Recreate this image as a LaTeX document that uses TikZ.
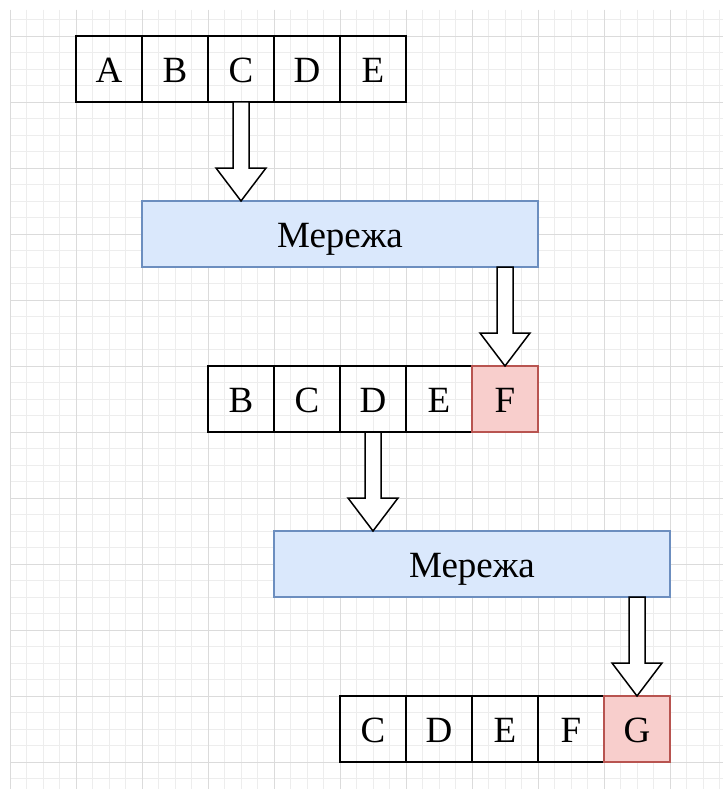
\documentclass[tikz,border=0pt]{standalone}
\usepackage{fontspec}
\setmainfont{Liberation Serif}
\usetikzlibrary{positioning,calc}

\definecolor{bluefill}{HTML}{DAE8FC}
\definecolor{blueline}{HTML}{6C8EBF}
\definecolor{redfill}{HTML}{F8CECC}
\definecolor{redline}{HTML}{B85450}
\tikzset{
  cell/.style={draw=black, line width=1.3pt, minimum size=66pt, inner sep=0pt, outer sep=0pt,
    text height=27pt, text depth=0pt, font=\fontsize{37}{40}\selectfont},
  newcell/.style={cell, fill=redfill, draw=redline},
  netbox/.style={draw=blueline, fill=bluefill, line width=1.1pt, minimum width=396pt, minimum height=66pt,
    inner sep=0pt, outer sep=0pt, text height=27pt, text depth=0pt, font=\fontsize{37}{40}\selectfont},
  blockarrow/.style={draw=black, fill=white, line width=1.5pt, line join=miter},
  minorgrid/.style={draw=black!7, line width=0.7pt},
  majorgrid/.style={draw=black!14, line width=0.9pt}
}

% block arrow: #1 start, #2 tip (same x)
\newcommand{\blockarrow}[2]{%
  \draw[blockarrow] ($(#1)+(-8,0)$) -- ($(#2)+(-8,-33)$) -- ($(#2)+(-25,-33)$) -- (#2)
    -- ($(#2)+(25,-33)$) -- ($(#2)+(8,-33)$) -- ($(#1)+(8,0)$) -- cycle;}

\begin{document}
\begin{tikzpicture}[x=1pt, y=-1pt]
\useasboundingbox (0,0) rectangle (723,789);
\fill[white] (0,0) rectangle (723,789);
%% grid
\foreach \i in {0,...,43} \draw[minorgrid] (10+16.5*\i,10) -- (10+16.5*\i,789);
\foreach \j in {1,...,47} \draw[minorgrid] (10,3+16.5*\j) -- (723,3+16.5*\j);
\foreach \i in {0,...,10} \draw[majorgrid] (10+66*\i,10) -- (10+66*\i,789);
\foreach \j in {0,...,11} \draw[majorgrid] (10,36+66*\j) -- (723,36+66*\j);

%% first window
\node[cell] (A1) at (109,69) {A};
\node[cell, right=0pt of A1] (B1) {B};
\node[cell, right=0pt of B1] (C1) {C};
\node[cell, right=0pt of C1] (D1) {D};
\node[cell, right=0pt of D1] (E1) {E};

\node[netbox] (net1) at (340,234) {Мережа};

%% second window
\node[cell] (B2) at (241,399) {B};
\node[cell, right=0pt of B2] (C2) {C};
\node[cell, right=0pt of C2] (D2) {D};
\node[cell, right=0pt of D2] (E2) {E};
\node[newcell, right=0pt of E2] (F2) {F};

\node[netbox] (net2) at (472,564) {Мережа};

%% third window
\node[cell] (C3) at (373,729) {C};
\node[cell, right=0pt of C3] (D3) {D};
\node[cell, right=0pt of D3] (E3) {E};
\node[cell, right=0pt of E3] (F3) {F};
\node[newcell, right=0pt of F3] (G3) {G};

%% arrows
\coordinate (a1) at (C1.south |- net1.north);
\coordinate (a2) at (F2.north |- net1.south);
\coordinate (a3) at (D2.south |- net2.north);
\coordinate (a4) at (G3.north |- net2.south);
\blockarrow{C1.south}{a1}
\blockarrow{a2}{F2.north}
\blockarrow{D2.south}{a3}
\blockarrow{a4}{G3.north}
\end{tikzpicture}
\end{document}
